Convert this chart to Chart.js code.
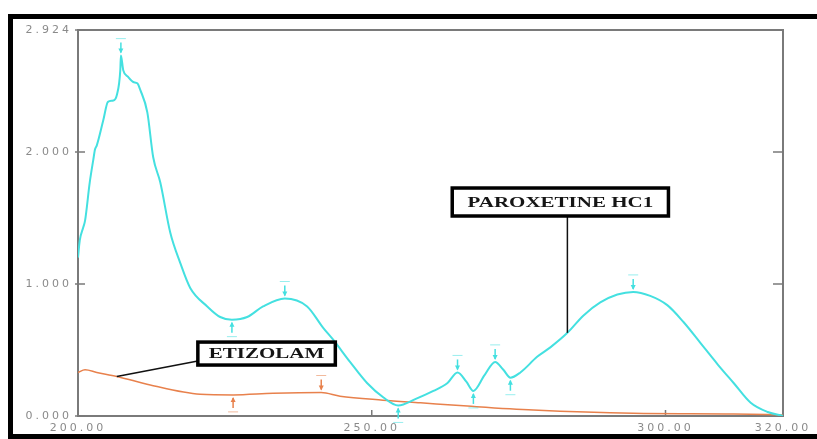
<!DOCTYPE html>
<html>
<head>
<meta charset="utf-8">
<script src="https://cdn.jsdelivr.net/npm/chart.js@4"></script>
<style>
  html, body { margin: 0; padding: 0; background: #fff; }
  #wrap { width: 817px; height: 439px; }
</style>
</head>
<body>
<div id="wrap"><canvas id="spectrum"></canvas></div>
<script>
// overlaid UV spectra, absorbance vs wavelength (nm)
const paroxNm = [200.0, 200.3, 200.9, 201.2, 202.0, 202.6, 202.9, 203.2, 204.3, 205.1, 206.0, 206.6,
  207.2, 207.3, 207.7, 208.5, 209.4, 210.1, 210.6, 211.8, 212.8, 214.0, 215.7, 217.4, 219.1, 222.0,
  224.2, 226.2, 228.8, 231.5, 235.2, 239.0, 241.7, 243.4, 246.3, 249.2, 252.0, 254.5, 257.5, 260.5,
  262.9, 264.6, 266.1, 267.3, 269.2, 271.0, 272.4, 273.6, 275.3, 278.2, 280.4, 283.3, 286.0, 288.9,
  291.8, 294.5, 297.4, 300.3, 303.1, 306.0, 308.9, 311.6, 314.5, 317.4, 320.0];
const paroxAbs = [1.20, 1.33, 1.43, 1.48, 1.77, 1.94, 2.02, 2.05, 2.24, 2.38, 2.39, 2.43,
  2.62, 2.73, 2.62, 2.57, 2.53, 2.52, 2.47, 2.30, 1.96, 1.77, 1.39, 1.16, 0.97, 0.83,
  0.75, 0.73, 0.75, 0.83, 0.89, 0.83, 0.67, 0.58, 0.41, 0.25, 0.14, 0.08, 0.13, 0.19,
  0.25, 0.33, 0.26, 0.19, 0.31, 0.41, 0.35, 0.29, 0.33, 0.45, 0.52, 0.63, 0.76, 0.86,
  0.92, 0.94, 0.91, 0.84, 0.71, 0.55, 0.39, 0.25, 0.10, 0.03, 0.00];

const etizNm = [200.0, 201.2, 203.2, 206.6, 212.3, 220.8, 226.4, 233.2, 241.4, 244.6, 251.9, 258.3,
  266.3, 277.5, 294.5, 311.6, 320.0];
const etizAbs = [0.33, 0.35, 0.33, 0.30, 0.235, 0.165, 0.16, 0.172, 0.178, 0.15, 0.12, 0.10,
  0.075, 0.045, 0.02, 0.015, 0.008];

const xTicks = [200, 250, 300, 320];
const yTicks = [0, 1, 2, 2.924];

// picked peaks / valleys, as wavelengths on each trace
const paroxPeaks = [207.3, 235.2, 264.6, 271.0, 294.5];
const paroxValleys = [226.2, 254.5, 267.3, 273.6];
const etizPeaks = [241.4];
const etizValleys = [226.4];

const cyan = '#44e0e0';
const orange = '#e8814c';

function toPoints(xs, ys) {
  return xs.map((x, i) => ({ x: x, y: ys[i] }));
}

function drawPick(ctx, pt, color, up) {
  const d = up ? -1 : 1;
  ctx.save();
  ctx.strokeStyle = color;
  ctx.fillStyle = color;
  ctx.lineWidth = 1.5;
  ctx.beginPath();
  ctx.moveTo(pt.x, pt.y + d * 3);
  ctx.lineTo(pt.x, pt.y + d * 13);
  ctx.stroke();
  ctx.beginPath();
  ctx.moveTo(pt.x, pt.y + d * 2);
  ctx.lineTo(pt.x - 2.5, pt.y + d * 7);
  ctx.lineTo(pt.x + 2.5, pt.y + d * 7);
  ctx.closePath();
  ctx.fill();
  ctx.globalAlpha = 0.55;
  ctx.lineWidth = 1;
  ctx.beginPath();
  ctx.moveTo(pt.x - 5, pt.y + d * 17);
  ctx.lineTo(pt.x + 5, pt.y + d * 17);
  ctx.stroke();
  ctx.restore();
}

function drawLabelBox(ctx, text, x0, y0, x1, y1) {
  ctx.save();
  ctx.fillStyle = '#fff';
  ctx.fillRect(x0, y0, x1 - x0, y1 - y0);
  ctx.lineWidth = 3.5;
  ctx.strokeStyle = '#000';
  ctx.strokeRect(x0, y0, x1 - x0, y1 - y0);
  ctx.font = 'bold 14px "Liberation Serif"';
  ctx.fillStyle = '#151515';
  ctx.textAlign = 'center';
  ctx.textBaseline = 'middle';
  ctx.translate((x0 + x1) / 2, (y0 + y1) / 2 + 1);
  ctx.scale(1.5, 1);
  ctx.fillText(text, 0, 0);
  ctx.restore();
}

const spacedTicks = {
  id: 'spacedTicks',
  beforeDraw(chart) { chart.ctx.letterSpacing = '3px'; },
  beforeDatasetsDraw(chart) { chart.ctx.letterSpacing = '0px'; }
};

const frame = {
  id: 'frame',
  beforeDatasetsDraw(chart) {
    const { ctx, chartArea: a, scales } = chart;
    ctx.save();
    // outer border of the figure
    ctx.strokeStyle = '#000';
    ctx.lineWidth = 5;
    ctx.strokeRect(10.5, 16.5, 840, 420);
    // plot box
    ctx.strokeStyle = '#7a7a7a';
    ctx.lineWidth = 2;
    ctx.strokeRect(a.left, a.top, a.right - a.left, a.bottom - a.top);
    ctx.lineWidth = 1.5;
    yTicks.forEach(v => {
      const y = scales.y.getPixelForValue(v);
      ctx.beginPath();
      ctx.moveTo(a.left - 3, y);
      ctx.lineTo(a.left + 7, y);
      if (v > 0 && v < 2.9) {
        ctx.moveTo(a.right - 10, y);
        ctx.lineTo(a.right, y);
      }
      ctx.stroke();
    });
    xTicks.slice(1, -1).forEach(v => {
      const x = scales.x.getPixelForValue(v);
      ctx.beginPath();
      ctx.moveTo(x, a.bottom);
      ctx.lineTo(x, a.bottom - 6);
      ctx.stroke();
    });
    ctx.restore();
  }
};

const notes = {
  id: 'notes',
  afterDatasetsDraw(chart) {
    const { ctx, scales } = chart;
    const px = scales.x, py = scales.y;
    const paroxMeta = chart.getDatasetMeta(0);
    const etizMeta = chart.getDatasetMeta(1);

    paroxPeaks.forEach(w => drawPick(ctx, paroxMeta.data[paroxNm.indexOf(w)], cyan, true));
    paroxValleys.forEach(w => drawPick(ctx, paroxMeta.data[paroxNm.indexOf(w)], cyan, false));
    etizPeaks.forEach(w => drawPick(ctx, etizMeta.data[etizNm.indexOf(w)], orange, true));
    etizValleys.forEach(w => drawPick(ctx, etizMeta.data[etizNm.indexOf(w)], orange, false));

    ctx.save();
    ctx.strokeStyle = '#111';
    ctx.lineWidth = 1.5;

    // ETIZOLAM callout
    const e0 = px.getPixelForValue(220.4), e1 = px.getPixelForValue(243.8);
    const eT = py.getPixelForValue(0.56), eB = py.getPixelForValue(0.386);
    const eTip = etizMeta.data[etizNm.indexOf(206.6)];
    ctx.beginPath();
    ctx.moveTo(e0, eB - 4);
    ctx.lineTo(eTip.x, eTip.y);
    ctx.stroke();

    // PAROXETINE callout
    const p0 = px.getPixelForValue(263.7), p1 = px.getPixelForValue(300.5);
    const pT = py.getPixelForValue(1.727), pB = py.getPixelForValue(1.515);
    const pTip = paroxMeta.data[paroxNm.indexOf(283.3)];
    ctx.beginPath();
    ctx.moveTo(pTip.x, pB);
    ctx.lineTo(pTip.x, pTip.y);
    ctx.stroke();
    ctx.restore();

    drawLabelBox(ctx, 'ETIZOLAM', e0, eT, e1, eB);
    drawLabelBox(ctx, 'PAROXETINE HC1', p0, pT, p1, pB);
  }
};

new Chart(document.getElementById('spectrum'), {
  type: 'line',
  data: {
    datasets: [{
      label: 'PAROXETINE HC1',
      data: toPoints(paroxNm, paroxAbs),
      borderColor: cyan,
      borderWidth: 2,
      pointRadius: 0,
      cubicInterpolationMode: 'monotone'
    }, {
      label: 'ETIZOLAM',
      data: toPoints(etizNm, etizAbs),
      borderColor: orange,
      borderWidth: 1.5,
      pointRadius: 0,
      cubicInterpolationMode: 'monotone'
    }]
  },
  options: {
    responsive: true,
    maintainAspectRatio: false,
    animation: false,
    layout: { padding: { top: 30, right: 34, left: 0, bottom: 0 } },
    plugins: {
      legend: { display: false },
      tooltip: { enabled: false }
    },
    scales: {
      x: {
        type: 'linear',
        min: 200,
        max: 320,
        afterBuildTicks: s => { s.ticks = xTicks.map(v => ({ value: v })); },
        afterFit: s => { s.height = 23; },
        grid: { display: false, drawTicks: false },
        border: { display: false },
        ticks: {
          maxRotation: 0,
          padding: 6,
          color: '#8a8a8a',
          font: { family: 'DejaVu Sans', size: 11 },
          callback: v => v.toFixed(2)
        }
      },
      y: {
        min: 0,
        max: 2.924,
        afterBuildTicks: s => { s.ticks = yTicks.map(v => ({ value: v })); },
        afterFit: s => { s.width = 78; },
        grid: { display: false, drawTicks: false },
        border: { display: false },
        ticks: {
          padding: 6,
          color: '#8a8a8a',
          font: { family: 'DejaVu Sans', size: 11 },
          callback: v => v.toFixed(3)
        }
      }
    }
  },
  plugins: [spacedTicks, frame, notes]
});
</script>
</body>
</html>
